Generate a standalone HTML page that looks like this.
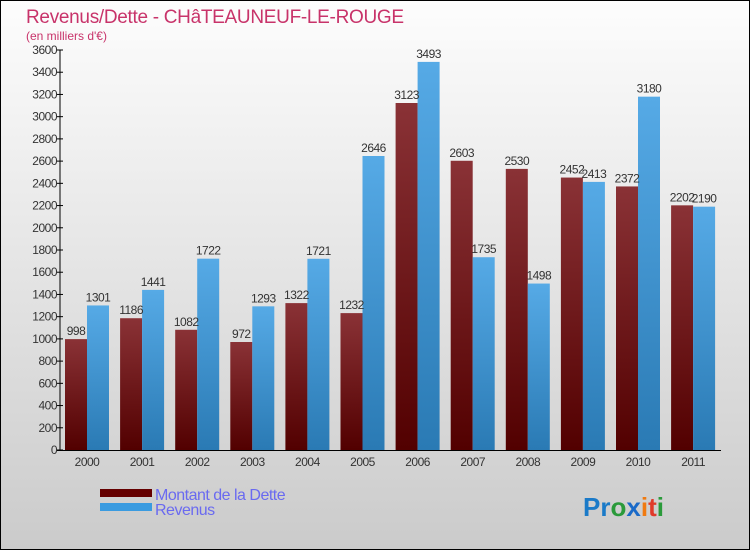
<!DOCTYPE html>
<html><head><meta charset="utf-8"><style>
body{margin:0}
#c{width:750px;height:550px;position:relative;box-sizing:border-box;border:1px solid #000;background:linear-gradient(#fdfdfd,#cbcbcb);font-family:"Liberation Sans",sans-serif;overflow:hidden}
</style></head><body>
<div id="c">
<svg width="750" height="550" style="position:absolute;left:-1px;top:-1px" id="s">
<defs>
<linearGradient id="gd" x1="0" y1="0" x2="0" y2="1"><stop offset="0" stop-color="#8a3236"/><stop offset="1" stop-color="#520000"/></linearGradient>
<linearGradient id="gr" x1="0" y1="0" x2="0" y2="1"><stop offset="0" stop-color="#56aae6"/><stop offset="1" stop-color="#2a7ab4"/></linearGradient>
</defs>
<text x="26" y="23" font-size="19" fill="#c8336a" letter-spacing="-0.3">Revenus/Dette - CHâTEAUNEUF-LE-ROUGE</text>
<text x="26" y="40" font-size="12" fill="#c8336a">(en milliers d'€)</text>
<g id="bars"></g>
<g id="axes"></g>
<rect x="100" y="489" width="52" height="8" fill="#650000"/>
<rect x="100" y="503" width="52" height="8" fill="#3a9be0"/>
<text x="155" y="500" font-size="16" fill="#6a6af0" letter-spacing="-0.5">Montant de la Dette</text>
<text x="155" y="515" font-size="16" fill="#6a6af0" letter-spacing="-0.5">Revenus</text>
<text x="583" y="516" font-size="26" font-weight="bold"><tspan fill="#1a7ac8">Pr</tspan><tspan fill="#2a9a3a">o</tspan><tspan fill="#1a6ac8">x</tspan><tspan fill="#f07a10">i</tspan><tspan fill="#e03a2a">t</tspan><tspan fill="#2a9a3a">i</tspan></text>
</svg>
</div>
<script>
const years=["2000","2001","2002","2003","2004","2005","2006","2007","2008","2009","2010","2011"];
const dette=[998,1186,1082,972,1322,1232,3123,2603,2530,2452,2372,2202];
const revenus=[1301,1441,1722,1293,1721,2646,3493,1735,1498,2413,3180,2190];
const yTicks=[0,200,400,600,800,1000,1200,1400,1600,1800,2000,2200,2400,2600,2800,3000,3200,3400,3600];
const NS="http://www.w3.org/2000/svg";
const y0=450,ymax=3600,ph=400,x0=60,step=55.1,c0=87,bw=22;
const Y=v=>y0-v/ymax*ph;
const X=i=>c0+i*step;
const bars=document.getElementById('bars'),axes=document.getElementById('axes');
function mk(t,a,p){const e=document.createElementNS(NS,t);for(const k in a)e.setAttribute(k,a[k]);p.appendChild(e);return e;}
years.forEach((yr,i)=>{
  const cx=X(i);
  const r1=mk('rect',{x:cx-bw,y:Y(dette[i]),width:bw,height:y0-Y(dette[i]),fill:'url(#gd)'},bars);
  
  
  const r2=mk('rect',{x:cx,y:Y(revenus[i]),width:bw,height:y0-Y(revenus[i]),fill:'url(#gr)'},bars);
  
  
  const t1=mk('text',{x:cx-bw/2,y:Y(dette[i])-4,'font-size':12,fill:'#333','text-anchor':'middle','letter-spacing':'-0.5'},bars);t1.textContent=dette[i];
  
  
  const t2=mk('text',{x:cx+bw/2,y:Y(revenus[i])-4,'font-size':12,fill:'#333','text-anchor':'middle','letter-spacing':'-0.5'},bars);t2.textContent=revenus[i];
  
  
  const xl=mk('text',{x:cx,y:466,'font-size':12,fill:'#333','text-anchor':'middle','letter-spacing':'-0.5'},axes);xl.textContent=yr;
  
  
});
const ya=mk('line',{x1:x0,y1:Y(ymax),x2:x0,y2:y0,stroke:'#000'},axes);


const xa=mk('line',{x1:x0-4,y1:y0+0.5,x2:721,y2:y0+0.5,stroke:'#000'},axes);


yTicks.forEach(v=>{
  mk('line',{x1:x0-3,y1:Y(v),x2:x0+3,y2:Y(v),stroke:'#000'},axes);
  const t=mk('text',{x:x0-3,y:Y(v)+4,'font-size':12,fill:'#333','text-anchor':'end','letter-spacing':'-0.5'},axes);t.textContent=v;
  
  
});
</script>
</body></html>
